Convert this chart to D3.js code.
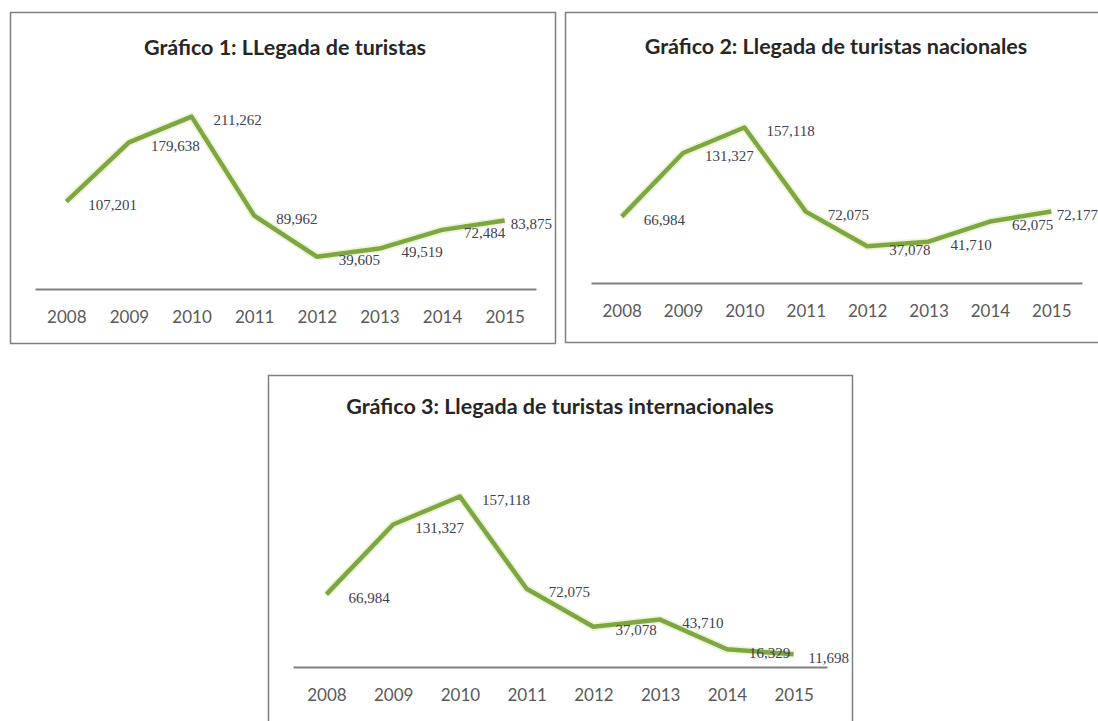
<!DOCTYPE html>
<html lang="es">

<head>
    <meta charset="UTF-8">
    <title>Llegada de turistas</title>
    <style>
        body {
            margin: 0;
            background: white;
        }

        .title {
            font-family: Lato, "Open Sans", sans-serif;
            font-weight: 700;
            font-size: 21.5px;
            fill: #262626;
        }

        .axis text {
            font-family: Lato, "Open Sans", sans-serif;
            font-size: 17px;
            fill: #595959;
        }

        .label {
            font-family: "Liberation Serif", "DejaVu Serif", serif;
            font-size: 15px;
            fill: #3f4050;
        }
    </style>
    <script src="https://cdn.jsdelivr.net/npm/d3@7"></script>
</head>

<body>
    <div id="chart"></div>
    <script>
        const years = ["2008", "2009", "2010", "2011", "2012", "2013", "2014", "2015"];
        const titles = [
            "Gráfico 1: LLegada de turistas",
            "Gráfico 2: Llegada de turistas nacionales",
            "Gráfico 3: Llegada de turistas internacionales"
        ];
        const turistasTotal = [107201, 179638, 211262, 89962, 39605, 49519, 72484, 83875];
        const turistasNacionales = [66984, 131327, 157118, 72075, 37078, 41710, 62075, 72177];
        const turistasInternacionales = [66984, 131327, 157118, 72075, 37078, 43710, 16329, 11698];
        const yMax = [250000, 200000, 200000];

        (() => {
            const width = 1098;
            const height = 721;

            // frame of each picture on the page, edge = where labels get pushed back in
            const frames = [
                { box: [10, 12, 555, 343], edge: 555, x: [35, 536], y: [289, 85], title: [285, 47] },
                { box: [565, 12, 1110, 342], edge: 1101, x: [591, 1082], y: [283, 85], title: [836, 46] },
                { box: [268, 375, 852, 740], edge: 852, x: [293, 827], y: [667, 450], title: [560, 406] }
            ];
            const series = [turistasTotal, turistasNacionales, turistasInternacionales];

            const svg = d3.select("#chart").append("svg")
                .attr("width", width)
                .attr("height", height)
                .attr("viewBox", [0, 0, width, height]);

            frames.forEach((f, i) => {
                const g = svg.append("g");
                const [bx0, by0, bx1, by1] = f.box;

                g.append("rect")
                    .attr("x", bx0 + 0.5)
                    .attr("y", by0 + 0.5)
                    .attr("width", bx1 - bx0)
                    .attr("height", by1 - by0)
                    .attr("fill", "white")
                    .attr("stroke", "#7f7f7f")
                    .attr("stroke-width", 1.5);

                const x = d3.scalePoint()
                    .domain(years)
                    .range(f.x)
                    .padding(0.5);

                const y = d3.scaleLinear()
                    .domain([0, yMax[i]])
                    .range(f.y);

                g.append("text")
                    .attr("class", "title")
                    .attr("x", f.title[0])
                    .attr("y", f.title[1])
                    .attr("text-anchor", "middle")
                    .attr("dy", "0.35em")
                    .text(titles[i]);

                const axis = g.append("g")
                    .attr("class", "axis")
                    .attr("transform", `translate(0,${y(0)})`)
                    .call(d3.axisBottom(x).tickSize(0).tickSizeOuter(0).tickPadding(22));
                axis.select(".domain")
                    .attr("stroke", "#808080")
                    .attr("stroke-width", 2);

                const data = series[i].map((v, k) => ({ year: years[k], value: v }));

                const line = d3.line()
                    .x(d => x(d.year))
                    .y(d => y(d.value));

                g.append("path")
                    .datum(data)
                    .attr("fill", "none")
                    .attr("stroke", "#dcecb4")
                    .attr("stroke-width", 8)
                    .attr("stroke-opacity", 0.5)
                    .attr("stroke-linejoin", "round")
                    .attr("d", line);

                g.append("path")
                    .datum(data)
                    .attr("fill", "none")
                    .attr("stroke", "#7ea742")
                    .attr("stroke-width", 4.5)
                    .attr("stroke-linejoin", "round")
                    .attr("d", line);

                g.selectAll(".label")
                    .data(data)
                    .join("text")
                    .attr("class", "label")
                    .attr("y", d => y(d.value) + 3)
                    .attr("dy", "0.35em")
                    .text(d => d3.format(",")(d.value))
                    .attr("x", function (d) {
                        const w = this.getComputedTextLength();
                        return Math.min(x(d.year) + 22, f.edge - 3 - w);
                    });
            });
        })()
    </script>
</body>

</html>
